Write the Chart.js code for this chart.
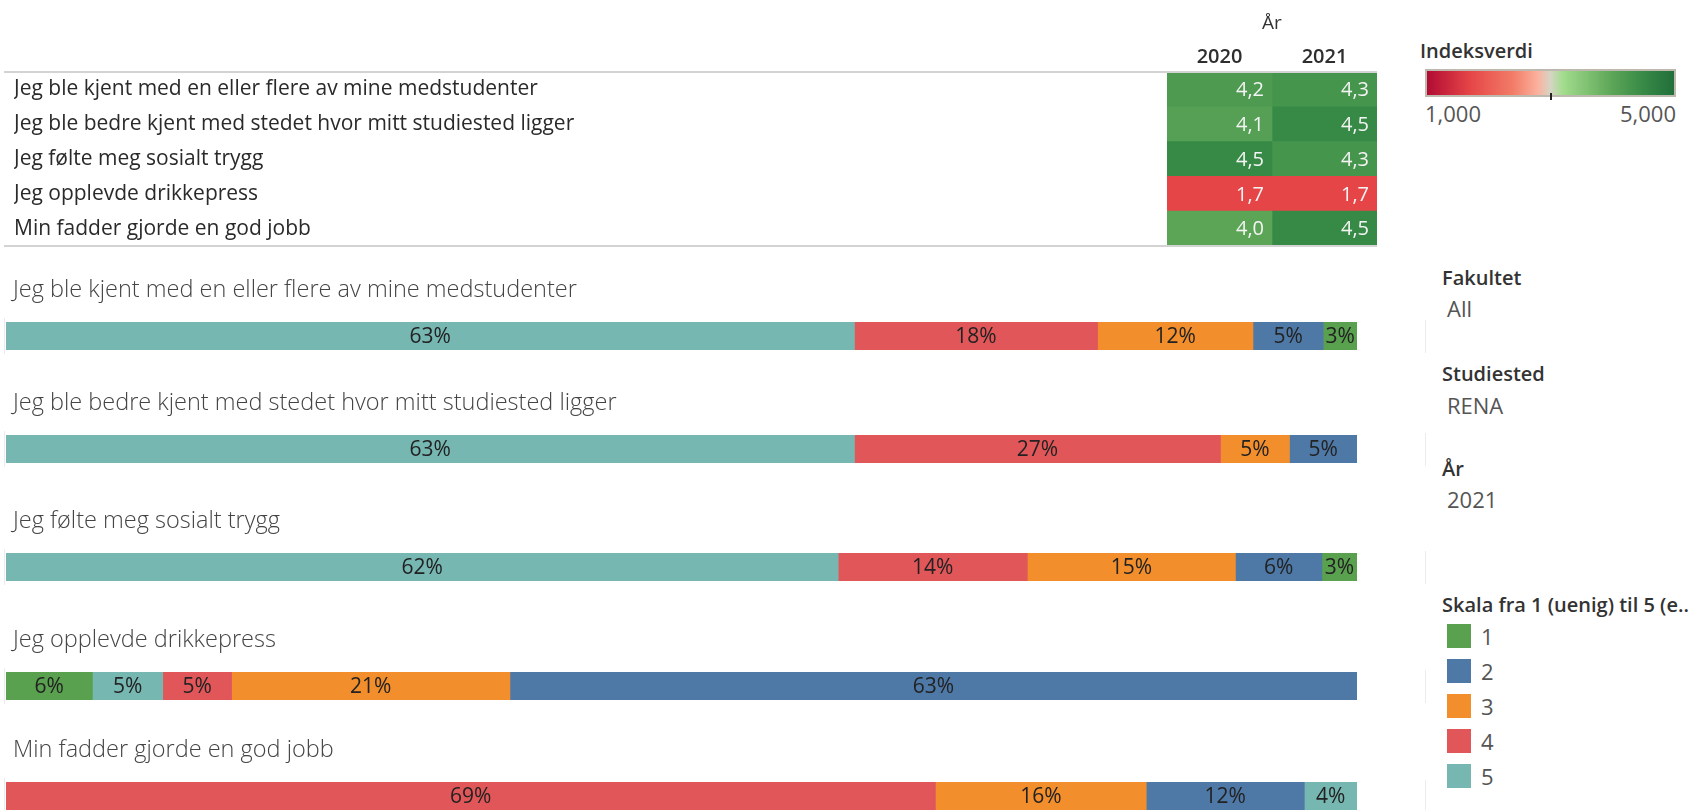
<!DOCTYPE html>
<html lang="no">
<head>
<meta charset="UTF-8" />
<title>Fadderuke – indeksverdi</title>
<script src="https://cdn.jsdelivr.net/npm/chart.js"></script>
<style>
  body { margin: 0; background: #fff; font-family: "Open Sans", sans-serif; width: 1702px; height: 810px; overflow: hidden; position: relative; }
  .box { position: absolute; }
  .ptitle { position: absolute; font-size: 20px; font-weight: 600; color: #333; line-height: 26px; white-space: nowrap; }
  .pval { position: absolute; font-size: 22px; color: #555; line-height: 26px; }
  .grad { position: absolute; left: 1425px; top: 69px; width: 247px; height: 24px; border: 2px solid #bdb9ae;
    background: linear-gradient(to right, #b10c34 0%, #e64547 17.5%, #f27d68 35%, #fbb29f 45%, #d5d5c5 50%, #a3dc8d 55%, #5ca557 75%, #378a46 87.5%, #226f3b 100%); }
  .tick { position: absolute; left: 1550px; top: 93px; width: 2px; height: 7px; background: #222; }
  .sep { position: absolute; width: 1px; background: #ececec; }
  .sw { position: absolute; width: 24px; height: 24px; }
</style>
</head>
<body>
<div class="box" style="left:0;top:0;width:1380px;height:250px"><canvas id="heat"></canvas></div>
<div id="bars"></div>

<div class="ptitle" style="left:1420px;top:38px">Indeksverdi</div>
<div class="grad"></div>
<div class="tick"></div>
<div class="pval" style="left:1425px;top:100px">1,000</div>
<div class="pval" style="left:1540px;top:100px;width:136px;text-align:right">5,000</div>

<div class="ptitle" style="left:1442px;top:265px">Fakultet</div>
<div class="pval" style="left:1447px;top:295px">All</div>
<div class="ptitle" style="left:1442px;top:361px">Studiested</div>
<div class="pval" style="left:1447px;top:392px">RENA</div>
<div class="ptitle" style="left:1442px;top:456px">År</div>
<div class="pval" style="left:1447px;top:486px">2021</div>
<div class="ptitle" style="left:1442px;top:592px">Skala fra 1 (uenig) til 5 (e..</div>
<div id="legend"></div>

<script>
const questions = [
  'Jeg ble kjent med en eller flere av mine medstudenter',
  'Jeg ble bedre kjent med stedet hvor mitt studiested ligger',
  'Jeg følte meg sosialt trygg',
  'Jeg opplevde drikkepress',
  'Min fadder gjorde en god jobb'
];
const years = ['2020', '2021'];
const index2020 = [4.2, 4.1, 4.5, 1.7, 4.0];
const index2021 = [4.3, 4.5, 4.3, 1.7, 4.5];

const scaleValues = [1, 2, 3, 4, 5];
const scaleColors = ['#59a14f', '#4e79a7', '#f28e2b', '#e15759', '#76b7b2'];

// segments left to right for each question: scale value and share of answers (%)
const segScale = [[5, 4, 3, 2, 1], [5, 4, 3, 2], [5, 4, 3, 2, 1], [1, 5, 4, 3, 2], [4, 3, 2, 5]];
const segShare = [
  [62.8, 18.0, 11.5, 5.2, 2.5],
  [62.8, 27.1, 5.1, 5.0],
  [61.6, 14.0, 15.4, 6.4, 2.6],
  [6.4, 5.2, 5.1, 20.6, 62.7],
  [68.8, 15.6, 11.7, 3.9]
];

const FONT = '"Open Sans", sans-serif';

// red-green diverging, 1..5
const stops = [[0, '#b10c34'], [0.175, '#e64547'], [0.35, '#f27d68'], [0.45, '#fbb29f'], [0.5, '#d5d5c5'],
  [0.55, '#a3dc8d'], [0.75, '#5ca557'], [0.875, '#378a46'], [1, '#226f3b']];
function hex(c) { return [1, 3, 5].map(i => parseInt(c.substr(i, 2), 16)); }
function colorFor(v) {
  const t = Math.min(1, Math.max(0, (v - 1) / 4));
  for (let i = 1; i < stops.length; i++) {
    if (t <= stops[i][0]) {
      const f = (t - stops[i - 1][0]) / (stops[i][0] - stops[i - 1][0]);
      const a = hex(stops[i - 1][1]), b = hex(stops[i][1]);
      return 'rgb(' + a.map((x, k) => Math.round(x + f * (b[k] - x))).join(',') + ')';
    }
  }
  return stops[stops.length - 1][1];
}
const fmt = v => v.toFixed(1).replace('.', ',');

const heatExtras = {
  id: 'heatExtras',
  afterDatasetsDraw(chart) {
    const { ctx, chartArea } = chart;
    ctx.save();
    ctx.font = '20px ' + FONT;
    ctx.fillStyle = '#f4f4f4';
    ctx.textAlign = 'right';
    ctx.textBaseline = 'middle';
    chart.data.datasets.forEach((ds, di) => {
      chart.getDatasetMeta(di).data.forEach((el, i) => {
        ctx.fillText(fmt(ds.values[i]), el.x - 8, el.y + 1);
      });
    });
    ctx.strokeStyle = '#d3d3d3';
    ctx.lineWidth = 2;
    [chartArea.top, chartArea.bottom].forEach(y => {
      ctx.beginPath(); ctx.moveTo(4, y); ctx.lineTo(chartArea.right, y); ctx.stroke();
    });
    ctx.restore();
  }
};

new Chart(document.getElementById('heat'), {
  type: 'bar',
  data: {
    labels: questions,
    datasets: [
      { label: years[0], values: index2020, data: index2020.map(() => [0, 1]), backgroundColor: index2020.map(colorFor) },
      { label: years[1], values: index2021, data: index2021.map(() => [1, 2]), backgroundColor: index2021.map(colorFor) }
    ]
  },
  options: {
    indexAxis: 'y',
    responsive: true,
    maintainAspectRatio: false,
    animation: false,
    layout: { padding: { left: 14, right: 3, top: 3, bottom: 4 } },
    datasets: { bar: { barPercentage: 1, categoryPercentage: 1, borderWidth: 0, grouped: false } },
    scales: {
      x: {
        type: 'linear', position: 'top', min: 0, max: 2,
        grid: { display: false, drawTicks: false }, border: { display: false },
        afterBuildTicks: s => { s.ticks = years.map((y, i) => ({ value: i + 0.5 })); },
        afterFit: s => { s.height = 69; s.paddingLeft = 0; s.paddingRight = 0; },
        ticks: { callback: (v, i) => years[i], autoSkip: false, padding: 3, color: '#2e2e2e', font: { family: FONT, size: 20, weight: '600' } },
        title: { display: true, text: 'År', color: '#333', padding: { top: 9, bottom: 9 }, font: { family: FONT, size: 19 } }
      },
      y: {
        grid: { display: false, drawTicks: false }, border: { display: false },
        afterFit: s => { s.width = 1167 - 14; s.paddingTop = 0; s.paddingBottom = 0; },
        ticks: { crossAlign: 'far', color: '#2a2a2a', font: { family: FONT, size: 21 } }
      }
    },
    plugins: { legend: { display: false }, tooltip: { enabled: false } }
  },
  plugins: [heatExtras]
});

const segLabels = {
  id: 'segLabels',
  afterDatasetsDraw(chart, args, opts) {
    const { ctx } = chart;
    ctx.save();
    ctx.font = '21px ' + FONT;
    ctx.fillStyle = '#222';
    ctx.textAlign = 'center';
    ctx.textBaseline = 'middle';
    chart.data.datasets.forEach((ds, di) => {
      const el = chart.getDatasetMeta(di).data[0];
      ctx.fillText(Math.round(ds.data[0]) + '%', (el.x + el.base) / 2, el.y + 1);
    });
    ctx.font = '300 23.5px ' + FONT;
    ctx.fillStyle = '#444';
    ctx.textAlign = 'left';
    ctx.fillText(opts.text, 13, chart.chartArea.top - 32);
    ctx.restore();
  }
};

const barTops = [322, 435, 553, 672, 782];
const barsDiv = document.getElementById('bars');
questions.forEach((q, qi) => {
  const wrap = document.createElement('div');
  wrap.className = 'box';
  wrap.style.cssText = `left:0;top:${barTops[qi] - 52}px;width:1362px;height:80px`;
  const cv = document.createElement('canvas');
  wrap.appendChild(cv);
  barsDiv.appendChild(wrap);
  const line = document.createElement('div');
  line.className = 'sep';
  line.style.cssText = `left:4px;top:${barTops[qi] - 4}px;height:36px`;
  barsDiv.appendChild(line);
  const line2 = document.createElement('div');
  line2.className = 'sep';
  line2.style.cssText = `left:1425px;top:${barTops[qi] - 2}px;height:33px`;
  barsDiv.appendChild(line2);

  new Chart(cv, {
    type: 'bar',
    data: {
      labels: [q],
      datasets: segScale[qi].map((s, k) => ({
        label: String(s),
        data: [segShare[qi][k]],
        backgroundColor: scaleColors[scaleValues.indexOf(s)]
      }))
    },
    options: {
      indexAxis: 'y',
      responsive: true,
      maintainAspectRatio: false,
      animation: false,
      layout: { padding: { left: 6, right: 5, top: 52, bottom: 0 } },
      datasets: { bar: { barPercentage: 1, categoryPercentage: 1, borderWidth: 0 } },
      scales: {
        x: { stacked: true, min: 0, max: 100, display: false },
        y: { stacked: true, display: false }
      },
      plugins: { legend: { display: false }, tooltip: { enabled: false }, segLabels: { text: q } }
    },
    plugins: [segLabels]
  });
});

// colour legend for the answer scale
const legend = document.getElementById('legend');
scaleValues.forEach((v, i) => {
  const y = 624 + i * 35;
  const sw = document.createElement('div');
  sw.className = 'sw';
  sw.style.cssText = `left:1447px;top:${y}px;background:${scaleColors[i]}`;
  legend.appendChild(sw);
  const lb = document.createElement('div');
  lb.className = 'pval';
  lb.style.cssText = `left:1481px;top:${y - 1}px`;
  lb.textContent = v;
  legend.appendChild(lb);
});
</script>
</body>
</html>
